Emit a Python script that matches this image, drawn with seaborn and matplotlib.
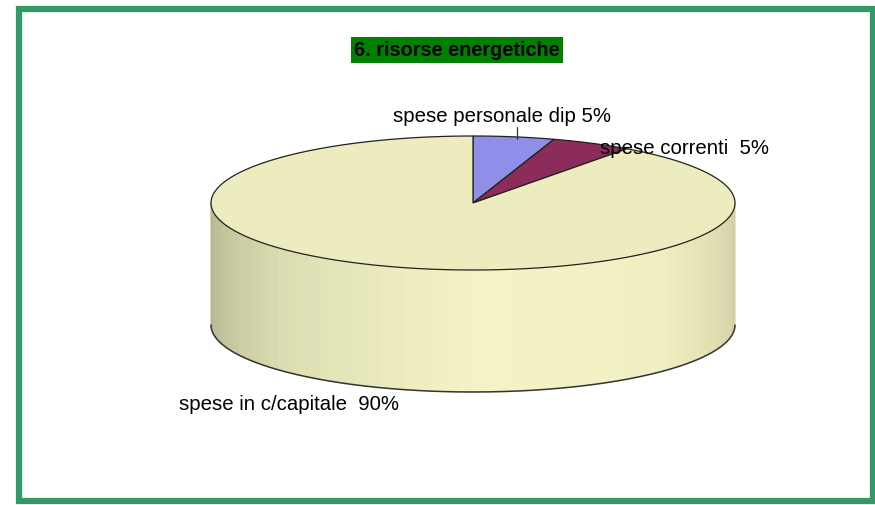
import numpy as np
import matplotlib
matplotlib.use("Agg")
import matplotlib.pyplot as plt
import seaborn as sns
from matplotlib.patches import Polygon, Rectangle

# Data
categories = ["spese personale dip", "spese correnti", "spese in c/capitale"]
values = [5, 5, 90]
label_texts = ["spese personale dip 5%", "spese correnti  5%", "spese in c/capitale  90%"]
colors = ["#8f8fe8", "#8b2c5a", "#ececbe"]
title = "6. risorse energetiche"

sns.set_theme(style="white")
plt.rcParams['font.family'] = ['Liberation Sans', 'DejaVu Sans']

fig = plt.figure(figsize=(8.75, 5.05), dpi=100)
ax = fig.add_axes([0, 0, 1, 1])
ax.set_xlim(0, 875)
ax.set_ylim(505, 0)
ax.axis("off")

# green frame
ax.add_patch(Rectangle((19, 9), 854, 492, fill=False, edgecolor="#339966", lw=4.5))

# 3D pie geometry (pixels)
cx, cy, rx, ry, depth = 473, 203, 262, 67, 122

def arc(t1, t2, n=200, dy=0):
    t = np.radians(np.linspace(t1, t2, n))
    return np.column_stack([cx + rx * np.cos(t), cy + dy - ry * np.sin(t)])

# side of the cylinder (front half, all in the big slice)
n_strips = 60
side_pal = sns.blend_palette(["#b4b48c", "#dedeb4", "#f3f3c6", "#f0f0c2", "#cfcfa4"], n_strips)
edges = np.linspace(180, 360, n_strips + 1)
for i in range(n_strips):
    top = arc(edges[i], edges[i + 1], 6)
    bot = arc(edges[i + 1], edges[i], 6, dy=depth)
    ax.add_patch(Polygon(np.vstack([top, bot]), closed=True, facecolor=side_pal[i],
                         edgecolor=side_pal[i], lw=0.6, zorder=2))
ax.plot(*arc(180, 360, 300, dy=depth).T, color="#333333", lw=1.1, zorder=3)

# top wedges, clockwise from 12 o'clock
start = 90.0
fracs = np.array(values) / np.sum(values) * 360
for val, col in zip(fracs, colors):
    a = arc(start, start - val, 200)
    poly = np.vstack([[cx, cy], a])
    ax.add_patch(Polygon(poly, closed=True, facecolor=col, edgecolor="#222222",
                         lw=0.9, zorder=4))
    start -= val

# title
ax.text(457, 50, title, ha="center", va="center", fontsize=14.3, fontweight="bold",
        color="black", zorder=6,
        bbox=dict(boxstyle="square,pad=0.17", facecolor="#008000", edgecolor="none"))

# labels
ax.plot([517, 517], [127, 139], color="#333333", lw=0.9, zorder=5)
ax.text(502, 117, label_texts[0], ha="center", va="center", fontsize=14.7, color="black", zorder=6)
ax.text(684, 149, label_texts[1], ha="center", va="center", fontsize=14.7, color="black", zorder=6)
ax.text(289, 404, label_texts[2], ha="center", va="center", fontsize=14.7, color="black", zorder=6)

plt.savefig("out.png", dpi=100)
